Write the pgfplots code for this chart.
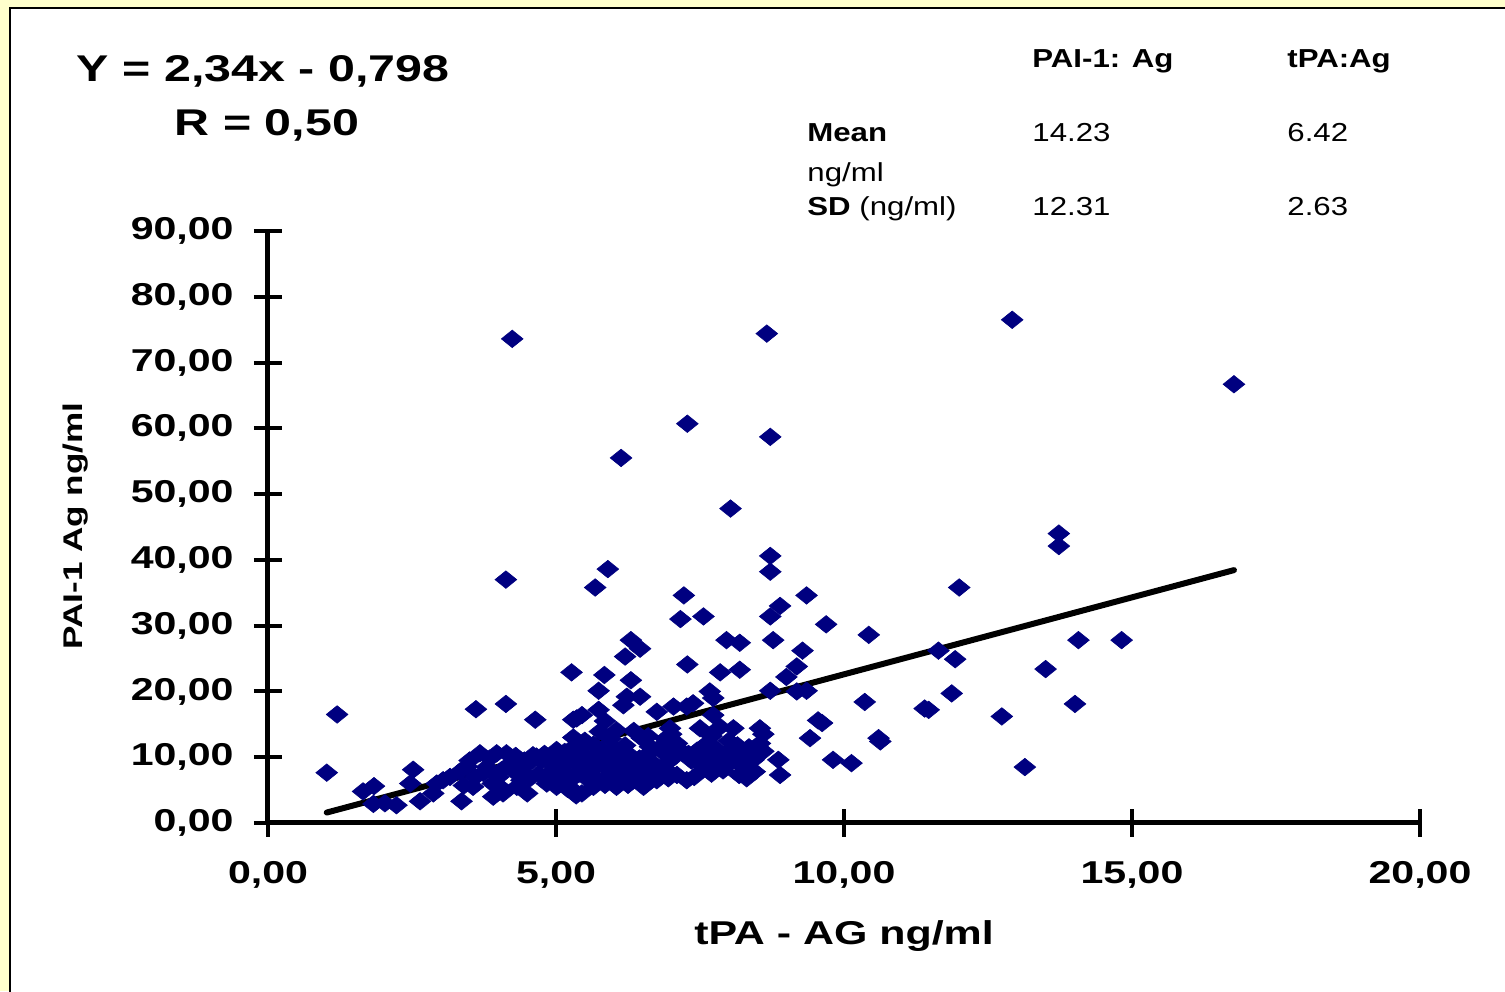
\documentclass[border=0pt]{standalone}
\usepackage{fontspec}
\setmainfont{Liberation Sans}[FakeStretch=1.3]
\newfontfamily\tabfont{Liberation Sans}[FakeStretch=1.2]
\usepackage{pgfplots}
\usepackage{pgfplotstable}
\pgfplotsset{compat=1.18}
\definecolor{bgyellow}{HTML}{FFFFCC}
\definecolor{navy}{HTML}{000080}
\pgfplotstableread{
x y
1.02 7.65
1.20 16.5
1.65 4.8
1.84 5.6
1.83 2.9
2.03 3.0
2.23 2.7
2.52 8.1
2.47 6.0
2.64 3.3
2.87 4.5
2.93 6.0
3.04 6.5
3.16 7.0
3.33 7.8
3.36 3.3
3.40 5.7
3.45 8.6
3.50 9.5
3.56 5.5
3.60 7.0
3.61 17.3
3.68 10.6
3.74 7.6
3.80 8.5
3.85 9.8
3.90 6.0
3.91 4.0
3.97 10.6
4.00 7.0
4.05 8.0
4.08 4.5
4.10 5.0
4.13 18.1
4.13 37.0
4.14 10.6
4.20 9.0
4.24 73.6
4.25 8.0
4.30 10.2
4.32 5.5
4.38 7.6
4.40 6.5
4.45 9.5
4.49 8.8
4.50 4.5
4.55 6.8
4.60 10.3
4.64 15.7
4.66 10.1
4.70 7.5
4.75 9.5
4.80 10.5
4.84 6.0
4.85 7.2
4.90 9.0
4.95 8.0
5.00 9.5
5.01 11.1
5.01 5.5
5.05 7.0
5.10 6.0
5.13 8.0
5.15 10.8
5.20 9.5
5.20 5.2
5.24 11.1
5.25 6.5
5.27 22.9
5.30 15.7
5.30 5.0
5.30 13.0
5.35 10.0
5.35 4.2
5.36 15.9
5.40 7.5
5.42 8.6
5.45 16.4
5.45 4.5
5.45 11.5
5.50 7.0
5.50 12.5
5.55 9.8
5.60 7.8
5.60 9.0
5.65 11.9
5.65 5.5
5.68 35.8
5.70 10.5
5.74 17.2
5.74 20.1
5.75 6.3
5.76 13.9
5.80 11.2
5.82 8.8
5.84 22.5
5.85 15.5
5.85 5.8
5.90 38.6
5.90 9.8
5.95 7.5
5.95 12.8
5.99 6.5
6.00 9.2
6.02 11.4
6.05 14.1
6.05 5.5
6.10 10.5
6.10 7.0
6.13 55.5
6.15 8.0
6.17 17.9
6.20 25.3
6.20 11.8
6.23 19.2
6.23 9.1
6.25 5.8
6.30 27.8
6.30 21.7
6.30 10.2
6.34 6.5
6.35 14.0
6.40 7.5
6.40 8.5
6.45 9.8
6.46 26.5
6.46 19.2
6.49 12.9
6.52 5.5
6.55 10.0
6.57 8.6
6.60 10.5
6.60 13.2
6.63 11.6
6.65 7.0
6.70 9.0
6.75 16.9
6.75 6.5
6.80 7.8
6.80 11.5
6.85 10.8
6.90 12.8
6.90 8.2
6.92 9.1
6.95 6.8
6.98 14.4
7.00 11.5
7.00 13.5
7.04 17.7
7.05 10.0
7.10 12.1
7.10 7.3
7.16 31.0
7.20 10.8
7.22 34.6
7.27 6.5
7.27 17.7
7.28 60.7
7.28 24.1
7.30 10.5
7.35 9.5
7.38 18.2
7.40 7.0
7.45 11.0
7.50 14.4
7.50 9.0
7.56 31.4
7.56 8.6
7.60 10.5
7.62 12.1
7.65 8.2
7.67 20.0
7.70 7.5
7.70 13.2
7.73 19.0
7.73 16.4
7.75 11.5
7.79 9.6
7.80 10.5
7.85 22.9
7.85 14.6
7.90 8.0
7.95 9.3
7.96 27.8
8.00 12.5
8.02 9.1
8.02 11.1
8.03 47.8
8.08 14.4
8.10 10.0
8.15 11.8
8.18 7.3
8.19 27.4
8.19 23.3
8.25 8.5
8.30 10.2
8.31 6.8
8.35 11.5
8.40 8.0
8.43 9.6
8.45 7.8
8.54 14.4
8.54 12.1
8.60 10.9
8.60 13.5
8.66 74.4
8.72 58.7
8.72 40.6
8.72 38.2
8.72 31.4
8.72 20.1
8.77 27.8
8.86 9.6
8.89 33.0
8.89 7.3
9.00 22.2
9.18 23.8
9.18 20.0
9.28 26.2
9.35 34.6
9.35 20.1
9.41 12.9
9.55 15.6
9.62 15.2
9.69 30.2
9.81 9.6
10.13 9.1
10.36 18.4
10.43 28.6
10.60 12.9
10.63 12.4
11.40 17.4
11.47 17.2
11.64 26.2
11.87 19.7
11.93 24.9
12.00 35.8
12.74 16.2
12.92 76.5
13.14 8.5
13.50 23.4
13.73 44.0
13.73 42.1
14.01 18.1
14.07 27.8
14.82 27.8
16.77 66.7
}\datatable
\begin{document}
\begin{tikzpicture}
\useasboundingbox (0,0) rectangle (752.5pt,495.5pt);
\fill[bgyellow] (0,0) rectangle (752.5pt,495.5pt);
\fill[white] (5pt,0) rectangle (752.5pt,491.5pt);
\draw[line width=0.6pt] (5pt,-2pt) -- (5pt,491.5pt) -- (755pt,491.5pt);
\begin{axis}[
  at={(134pt,84pt)}, anchor=south west,
  scale only axis, width=576pt, height=296pt,
  xmin=0, xmax=20, ymin=0, ymax=90,
  enlargelimits=false, clip=false,
  axis x line=bottom, axis y line=left,
  axis line style={line width=2.5pt, -},
  xtick={0,5,10,15,20},
  xticklabels={{0,00},{5,00},{10,00},{15,00},{20,00}},
  ytick={0,10,20,30,40,50,60,70,80,90},
  yticklabels={{0,00},{10,00},{20,00},{30,00},{40,00},{50,00},{60,00},{70,00},{80,00},{90,00}},
  tick align=center, major tick length=14pt,
  every tick/.style={line width=2pt, black},
  tick label style={font=\fontsize{15.8}{16}\selectfont\bfseries},
  yticklabel style={anchor=east, inner sep=0pt, xshift=-10pt},
  xticklabel style={anchor=north, inner sep=0pt, yshift=-12pt},
  xlabel={tPA - AG ng/ml},
  ylabel={PAI-1 Ag ng/ml},
  xlabel style={at={(axis description cs:0.5,-0.206)}, anchor=base, inner sep=0pt, font=\fontsize{16.5}{16.5}\selectfont\bfseries},
  ylabel style={at={(axis description cs:-0.1667,0.5017)}, anchor=center, inner sep=0pt, font=\fontsize{13.5}{13.5}\selectfont\bfseries},
]
\addplot[black, line width=3pt, line cap=round] coordinates {(1.02,1.589) (16.77,38.444)};
\addplot[only marks, mark=square*, mark size=3.1pt,
  mark options={draw=navy, fill=navy, line width=0.3pt, xscale=1.24, rotate=45}]
  table[x=x, y=y] {\datatable};
\end{axis}
\node[anchor=base, inner sep=0pt, font=\fontsize{18.6}{19}\selectfont\bfseries] at (131.5pt,454.5pt) {Y = 2,34x - 0,798};
\node[anchor=base, inner sep=0pt, font=\fontsize{18.6}{19}\selectfont\bfseries] at (133.5pt,427.5pt) {R = 0,50};
\begin{scope}[every node/.style={anchor=base west, inner sep=0pt, font=\tabfont\fontsize{13}{13}\selectfont}]
\node[font=\tabfont\fontsize{13}{13}\selectfont\bfseries] at (516pt,461.7pt) {PAI-1: Ag};
\node[font=\tabfont\fontsize{13}{13}\selectfont\bfseries] at (643.5pt,461.7pt) {tPA:Ag};
\node[font=\tabfont\fontsize{13}{13}\selectfont\bfseries] at (403.5pt,424.5pt) {Mean};
\node at (516pt,424.5pt) {14.23};
\node at (643.5pt,424.5pt) {6.42};
\node at (403.5pt,404.8pt) {ng/ml};
\node at (403.5pt,387.5pt) {\textbf{SD} (ng/ml)};
\node at (516pt,387.5pt) {12.31};
\node at (643.5pt,387.5pt) {2.63};
\end{scope}
\end{tikzpicture}
\end{document}
